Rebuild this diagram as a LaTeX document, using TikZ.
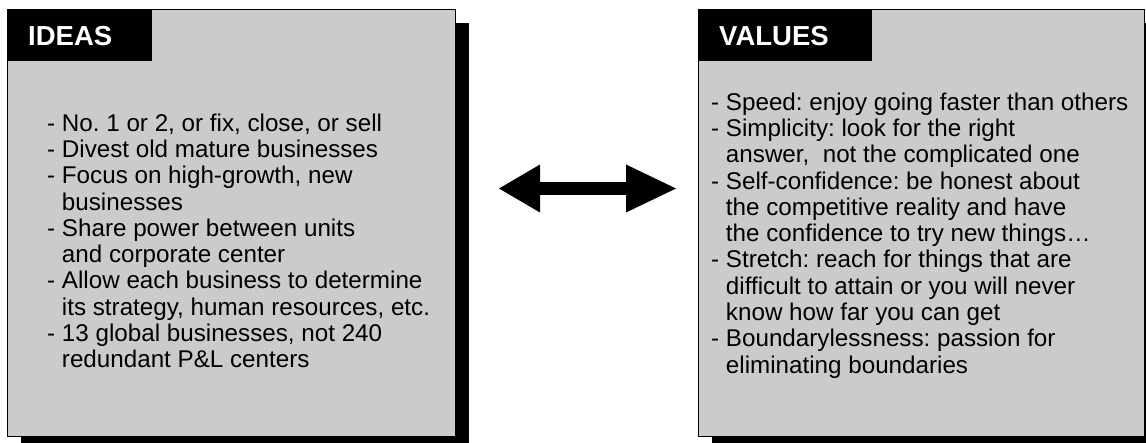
\documentclass[tikz,border=0pt]{standalone}
\usepackage{fontspec}
\setmainfont{Liberation Sans}
\usetikzlibrary{shadows,arrows.meta}
\definecolor{panelgray}{RGB}{203,203,203}
\frenchspacing
\begin{document}
\begin{tikzpicture}[x=1pt,y=-1pt,
  panel/.style={draw=black, line width=1.2pt, fill=panelgray, inner sep=0pt,
    anchor=north west, minimum width=448pt, minimum height=427pt,
    drop shadow={shadow xshift=13pt, shadow yshift=-13pt, fill=black, opacity=1}},
  tab/.style={fill=black, inner sep=0pt, anchor=north west, minimum height=52pt},
  heading/.style={text=white, font=\bfseries\fontsize{27.5}{30}\selectfont,
    inner sep=0pt, anchor=base west},
  body/.style={font=\frenchspacing\fontsize{24.2}{26.3}\selectfont, align=left, inner sep=0pt,
    anchor=north west},
  bigarrow/.style={line width=13pt,
    {Triangle[length=41pt,width=48pt,line width=0pt]}-{Triangle[length=50pt,width=48pt,line width=0pt]}}]
\useasboundingbox (0,0) rectangle (1146,443);
\clip (0,0) rectangle (1146,443);
\newcommand{\cont}{\phantom{- }}
\newcommand{\firstline}{\rule{0pt}{20pt}}

% left panel
\node[panel] (ideas) at (7,9) {};
\node[tab, minimum width=145pt] (ideastab) at (ideas.north west) {};
\node[heading] (ideashead) at (28,46) {IDEAS};
\node[body] (ideastext) at (47,111) {\firstline- No. 1 or 2, or fix, close, or sell\\
- Divest old mature businesses\\
- Focus on high-growth, new\\
\cont businesses\\
- Share power between units\\
\cont and corporate center\\
- Allow each business to determine\\
\cont its strategy, human resources, etc.\\
- 13 global businesses, not 240\\
\cont redundant P\&L centers};

% right panel
\node[panel, minimum width=446pt] (values) at (698,9) {};
\node[tab, minimum width=174pt] (valuestab) at (values.north west) {};
\node[heading] (valueshead) at (719,46) {VALUES};
\node[body] (valuestext) at (711,90) {\firstline- Speed: enjoy going faster than others\\
- Simplicity: look for the right\\
\cont answer,~ not the complicated one\\
- Self-confidence: be honest about\\
\cont the competitive reality and have\\
\cont the confidence to try new things…\\
- Stretch: reach for things that are\\
\cont difficult to attain or you will never\\
\cont know how far you can get\\
- Boundarylessness: passion for\\
\cont eliminating boundaries};

% two-way link between the panels
\coordinate (linkL) at (499,188.5);
\coordinate (linkR) at (676,188.5);
\draw[bigarrow] (linkL) -- (linkR);
\end{tikzpicture}
\end{document}
